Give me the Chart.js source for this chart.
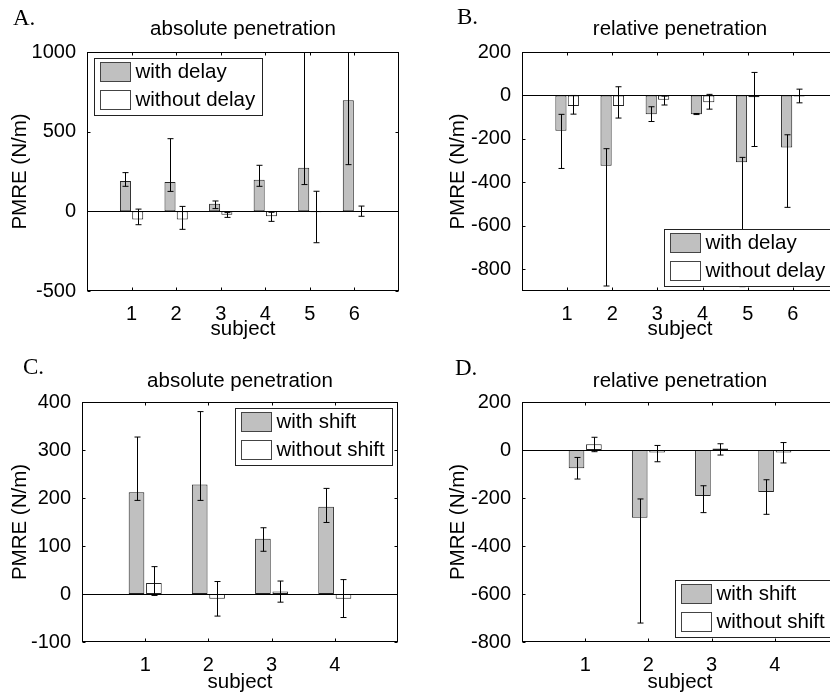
<!DOCTYPE html>
<html>
<head>
<meta charset="utf-8">
<script src="https://cdn.jsdelivr.net/npm/chart.js@4.4.1/dist/chart.umd.min.js"></script>
<style>
html, body { margin: 0; padding: 0; background: #fff; overflow: hidden; width: 830px; height: 695px; }
canvas { position: absolute; }
</style>
</head>
<body>
<canvas id="panelA" width="415" height="345"></canvas>
<canvas id="panelB" width="440" height="345"></canvas>
<canvas id="panelC" width="415" height="350"></canvas>
<canvas id="panelD" width="440" height="350"></canvas>
<script>
Chart.defaults.font.family = '"Liberation Sans", Arial, Helvetica, sans-serif';
Chart.defaults.color = '#000';

// subjects
const subjectsDelay = [1, 2, 3, 4, 5, 6];
const subjectsShift = [1, 2, 3, 4];
const xLabelsDelay = ['1', '2', '3', '4', '5', '6'];
const xLabelsShift = ['1', '2', '3', '4'];

// A. absolute penetration (delay)
const absWithDelay      = [190, 184, 48, 199, 274, 697];
const absWithDelayLo    = [157, 125, 17, 157, 168, 293];
const absWithDelayHi    = [243, 456, 65, 289, 1150, 1150];
const absWithoutDelay   = [-52, -52, -21, -31, -5, -3];
const absWithoutDelayLo = [-84, -113, -38, -63, -197, -31];
const absWithoutDelayHi = [14, 31, -8, -6, 126, 33];

// B. relative penetration (delay)
const relWithDelay      = [-162, -323, -86, -86, -307, -239];
const relWithDelayLo    = [-336, -877, -120, -88, -880, -515];
const relWithDelayHi    = [-87, -245, -52, -83, -285, -181];
const relWithoutDelay   = [-49, -49, -20, -31, -8, -5];
const relWithoutDelayLo = [-86, -104, -44, -63, -235, -34];
const relWithoutDelayHi = [0, 40, -3, 5, 106, 29];

// C. absolute penetration (shift)
const absWithShift      = [212, 228, 115, 182];
const absWithShiftLo    = [195, 195, 89, 149];
const absWithShiftHi    = [327, 380, 138, 220];
const absWithoutShift   = [23, -10, 5, -10];
const absWithoutShiftLo = [-3, -46, -17, -49];
const absWithoutShiftHi = [57, 26, 27, 30];

// D. relative penetration (shift)
const relWithShift      = [-76, -282, -192, -175];
const relWithShiftLo    = [-121, -721, -261, -268];
const relWithShiftHi    = [-31, -204, -149, -124];
const relWithoutShift   = [24, -10, 6, -10];
const relWithoutShiftLo = [-7, -49, -21, -54];
const relWithoutShiftHi = [53, 19, 26, 31];

// y tick values / labels
const yTicksA = [-500, 0, 500, 1000];
const yLabelsA = ['-500', '0', '500', '1000'];
const yTicksB = [-800, -600, -400, -200, 0, 200];
const yLabelsB = ['-800', '-600', '-400', '-200', '0', '200'];
const yTicksC = [-100, 0, 100, 200, 300, 400];
const yLabelsC = ['-100', '0', '100', '200', '300', '400'];
const yTicksD = [-800, -600, -400, -200, 0, 200];
const yLabelsD = ['-800', '-600', '-400', '-200', '0', '200'];

const GRAY = '#c0c0c0';
const EDGE = '#222';
const TXT = 20.5;

const panels = [
  { id: 'panelA', left: 0, top: 0, area: [87, 52, 399, 291], xMax: 7, yMin: -500, yMax: 1000,
    letter: 'A.', letterPos: [13, 25], title: 'absolute penetration', titleMid: 29.6, yTitleMid: 19.9, xTitleMid: 329.6,
    subjects: subjectsDelay, xLabels: xLabelsDelay, yTicks: yTicksA, yLabels: yLabelsA, legend: 'nw',
    series: [
      { label: 'with delay', v: absWithDelay, lo: absWithDelayLo, hi: absWithDelayHi, fill: GRAY },
      { label: 'without delay', v: absWithoutDelay, lo: absWithoutDelayLo, hi: absWithoutDelayHi, fill: '#fff' }] },
  { id: 'panelB', left: 415, top: 0, area: [522, 52, 838, 291], xMax: 7, yMin: -900, yMax: 200,
    letter: 'B.', letterPos: [457, 24], title: 'relative penetration', titleMid: 29.6, yTitleMid: 458, xTitleMid: 329.6,
    subjects: subjectsDelay, xLabels: xLabelsDelay, yTicks: yTicksB, yLabels: yLabelsB, legend: 'se',
    series: [
      { label: 'with delay', v: relWithDelay, lo: relWithDelayLo, hi: relWithDelayHi, fill: GRAY },
      { label: 'without delay', v: relWithoutDelay, lo: relWithoutDelayLo, hi: relWithoutDelayHi, fill: '#fff' }] },
  { id: 'panelC', left: 0, top: 345, area: [82, 402, 398, 642], xMax: 5, yMin: -100, yMax: 400,
    letter: 'C.', letterPos: [23, 374], title: 'absolute penetration', titleMid: 381.1, yTitleMid: 19.9, xTitleMid: 682.9,
    subjects: subjectsShift, xLabels: xLabelsShift, yTicks: yTicksC, yLabels: yLabelsC, legend: 'ne',
    series: [
      { label: 'with shift', v: absWithShift, lo: absWithShiftLo, hi: absWithShiftHi, fill: GRAY },
      { label: 'without shift', v: absWithoutShift, lo: absWithoutShiftLo, hi: absWithoutShiftHi, fill: '#fff' }] },
  { id: 'panelD', left: 415, top: 345, area: [522, 402, 838, 642], xMax: 5, yMin: -800, yMax: 200,
    letter: 'D.', letterPos: [455, 375], title: 'relative penetration', titleMid: 381.1, yTitleMid: 458, xTitleMid: 682.9,
    subjects: subjectsShift, xLabels: xLabelsShift, yTicks: yTicksD, yLabels: yLabelsD, legend: 'se',
    series: [
      { label: 'with shift', v: relWithShift, lo: relWithShiftLo, hi: relWithShiftHi, fill: GRAY },
      { label: 'without shift', v: relWithoutShift, lo: relWithoutShiftLo, hi: relWithoutShiftHi, fill: '#fff' }] }
];

function line(ctx, x1, y1, x2, y2) {
  ctx.beginPath(); ctx.moveTo(x1, y1); ctx.lineTo(x2, y2); ctx.stroke();
}

function matlabPlugin(p) {
  return {
    id: 'matlab',
    afterDatasetsDraw(chart) {
      const ctx = chart.ctx, a = chart.chartArea;
      const xs = chart.scales.x, ys = chart.scales.y;
      const L = Math.round(a.left) + 0.5, R = Math.round(a.right) - 0.5;
      const T = Math.round(a.top) + 0.5, B = Math.round(a.bottom) - 0.5;
      ctx.save();
      ctx.lineWidth = 1;
      ctx.strokeStyle = '#000';
      // baseline at zero
      const y0 = Math.round(ys.getPixelForValue(0)) + 0.5;
      line(ctx, L, y0, R, y0);
      // error bars
      ctx.save();
      ctx.beginPath(); ctx.rect(a.left, a.top, a.right - a.left, a.bottom - a.top); ctx.clip();
      p.series.forEach((s, d) => {
        const meta = chart.getDatasetMeta(d);
        meta.data.forEach((bar, i) => {
          const x = Math.round(bar.x) + 0.5;
          const yl = ys.getPixelForValue(s.lo[i]), yh = ys.getPixelForValue(s.hi[i]);
          line(ctx, x, yl, x, yh);
          line(ctx, x - 3, yl, x + 3, yl);
          line(ctx, x - 3, yh, x + 3, yh);
        });
      });
      ctx.restore();
      // frame + inward ticks
      ctx.strokeRect(L, T, R - L, B - T);
      xs.ticks.forEach(t => {
        const x = Math.round(xs.getPixelForValue(t.value)) + 0.5;
        line(ctx, x, B, x, B - 3);
        line(ctx, x, T, x, T + 3);
      });
      ys.ticks.forEach(t => {
        const y = Math.round(ys.getPixelForValue(t.value)) + 0.5;
        line(ctx, L, y, L + 3, y);
        line(ctx, R, y, R - 3, y);
      });
      // legend
      ctx.font = TXT + 'px "Liberation Sans", Arial, sans-serif';
      const ds = chart.data.datasets;
      const tw = Math.max(...ds.map(d => ctx.measureText(d.label).width));
      const w = Math.round(6 + 31 + 4.5 + tw + 7), h = 57;
      const bx = p.legend.includes('w') ? Math.round(a.left + 6.5) : Math.round(a.right - 6.5 - w);
      const by = p.legend.includes('n') ? Math.round(a.top + 5.5) : Math.round(a.bottom - 5 - h);
      ctx.fillStyle = '#fff';
      ctx.fillRect(bx, by, w, h);
      ctx.strokeStyle = EDGE;
      ctx.strokeRect(bx + 0.5, by + 0.5, w, h);
      ds.forEach((d, k) => {
        const sy = by + 4 + Math.round(k * 27.6);
        ctx.fillStyle = d.backgroundColor;
        ctx.fillRect(bx + 6, sy, 31, 20);
        ctx.strokeStyle = '#444';
        ctx.strokeRect(bx + 6.5, sy + 0.5, 30, 19);
        ctx.fillStyle = '#000';
        ctx.textBaseline = 'middle';
        ctx.textAlign = 'left';
        ctx.fillText(d.label, bx + 6 + 31 + 4.5, sy + 10);
      });
      // panel letter
      ctx.font = '23px "Liberation Serif", "Times New Roman", serif';
      ctx.textBaseline = 'alphabetic';
      ctx.fillText(p.letter, p.letterPos[0] - p.left, p.letterPos[1] - p.top);
      ctx.restore();
    }
  };
}

panels.forEach(p => {
  const canvas = document.getElementById(p.id);
  canvas.style.left = p.left + 'px';
  canvas.style.top = p.top + 'px';
  const W = canvas.width, H = canvas.height;
  const lh = TXT * 1.2;
  const yW = p.area[0] - p.left;
  const padRight = p.left + W - p.area[2];
  const xH = p.top + H - p.area[3];

  new Chart(canvas, {
    type: 'bar',
    data: {
      datasets: p.series.map(s => ({
        label: s.label,
        data: p.subjects.map((x, i) => ({ x: x, y: s.v[i] })),
        backgroundColor: s.fill,
        borderColor: EDGE,
        borderWidth: 1,
        borderSkipped: false,
        categoryPercentage: 0.55,
        barPercentage: 0.9
      }))
    },
    options: {
      responsive: false,
      animation: false,
      events: [],
      layout: { padding: { left: 0, right: padRight, top: 0, bottom: 0 } },
      plugins: {
        legend: { display: false },
        tooltip: { enabled: false },
        title: {
          display: true, text: p.title, fullSize: false,
          font: { size: TXT, weight: 'normal' }, color: '#000',
          padding: { top: p.titleMid - p.top - lh / 2, bottom: p.area[1] - p.titleMid - lh / 2 }
        }
      },
      scales: {
        x: {
          type: 'linear', min: 0, max: p.xMax, offset: false,
          grid: { display: false }, border: { display: false },
          afterBuildTicks: s => { s.ticks = p.subjects.map(v => ({ value: v })); },
          afterFit: s => { s.height = xH; },
          ticks: { font: { size: 20 }, padding: 3.5, maxRotation: 0, autoSkip: false,
                   callback: (v, i) => p.xLabels[i] },
          title: { display: true, text: 'subject', font: { size: TXT },
                   padding: { top: 0, bottom: Math.max(0, p.top + H - p.xTitleMid - lh / 2) } }
        },
        y: {
          type: 'linear', min: p.yMin, max: p.yMax,
          grid: { display: false }, border: { display: false },
          afterBuildTicks: s => { s.ticks = p.yTicks.map(v => ({ value: v })); },
          afterFit: s => { s.width = yW; },
          ticks: { font: { size: 20 }, padding: 3, autoSkip: false,
                   callback: (v, i) => p.yLabels[i] },
          title: { display: true, text: 'PMRE (N/m)', font: { size: TXT },
                   padding: { top: p.yTitleMid - p.left - lh / 2, bottom: 0 } }
        }
      }
    },
    plugins: [matlabPlugin(p)]
  });
});
</script>
</body>
</html>
